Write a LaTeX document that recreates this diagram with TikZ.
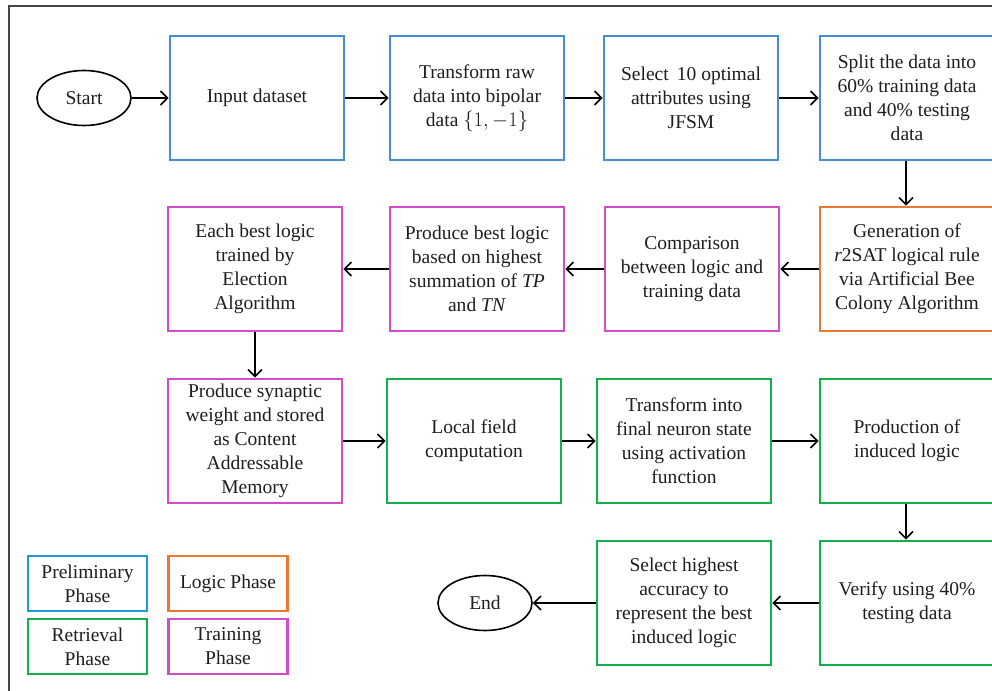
\documentclass[tikz,border=0pt]{standalone}
\usepackage{fontspec}
\setmainfont{Liberation Serif}
\usetikzlibrary{arrows.meta,shapes.geometric}
\definecolor{cblue}{RGB}{72,140,215}
\definecolor{lblue}{RGB}{30,155,215}
\definecolor{corange}{RGB}{237,120,50}
\definecolor{cmag}{RGB}{210,75,200}
\definecolor{cgreen}{RGB}{20,175,75}
\definecolor{frame}{RGB}{70,70,70}
\definecolor{txt}{RGB}{30,30,30}
\tikzset{
  box/.style={draw, line width=2.6bp, minimum width=174bp, minimum height=124bp, inner sep=0pt, align=center, text=txt, font=\fontsize{19.6}{24}\selectfont},
  pre/.style={box, draw=cblue},
  logi/.style={box, draw=corange},
  train/.style={box, draw=cmag},
  retr/.style={box, draw=cgreen},
  term/.style={draw, ellipse, line width=1.6bp, minimum width=94bp, minimum height=55bp, inner sep=0pt, text=txt, font=\fontsize{19.6}{24}\selectfont},
  leg/.style={draw, line width=2.6bp, minimum width=119bp, minimum height=55bp, inner sep=0pt, align=center, text=txt, font=\fontsize{19.6}{24}\selectfont},
  arr/.style={-{Straight Barb[length=7bp,width=14bp,line width=1.6bp]}, line width=1.6bp}
}
\begin{document}
\begin{tikzpicture}[x=1bp,y=-1bp]
\useasboundingbox (0,0) rectangle (992,691);
\clip (0,0) rectangle (992,691);
\fill[white] (0,0) rectangle (992,691);
\draw[frame, line width=1.2bp] (9,695) -- (9,6) -- (995,6);

% row 1
\node[term] (start) at (84,98) {Start};
\node[pre] (input) at (257,98) {Input dataset};
\node[pre] (transform) at (477,98) {Transform raw\\data into bipolar\\data $\bigl\{1,-1\bigr\}$};
\node[pre] (select) at (691,98) {Select \,10 optimal\\attributes using\\JFSM};
\node[pre] (split) at (907,98) {Split the data into\\60\% training data\\and 40\% testing\\data};

% row 2
\node[logi] (gen) at (907,269) {Generation of\\\textit{r}2SAT logical rule\\via Artificial Bee\\Colony Algorithm};
\node[train] (comp) at (692,269) {Comparison\\between logic and\\training data};
\node[train] (prodbest) at (477,269) {Produce best logic\\based on highest\\summation of \textit{TP}\\and \textit{TN}};
\node[train] (each) at (255,269) {Each best logic\\trained by\\Election\\Algorithm};

% row 3
\node[train] (syn) at (255,441) {Produce synaptic\\weight and stored\\as Content\\Addressable\\Memory};
\node[retr] (local) at (474,441) {Local field\\computation};
\node[retr] (tinto) at (684,441) {Transform into\\final neuron state\\using activation\\function};
\node[retr] (prodind) at (907,441) {Production of\\induced logic};

% row 4
\node[retr] (verify) at (907,603) {Verify using 40\%\\testing data};
\node[retr] (sel) at (684,603) {Select highest\\accuracy to\\represent the best\\induced logic};
\node[term] (end) at (485,603) {End};

% legend
\node[leg, draw=lblue] (lpre) at (87.5,583.5) {Preliminary\\Phase};
\node[leg, draw=corange] (llog) at (228,583.5) {Logic Phase};
\node[leg, draw=cgreen] (lret) at (87.5,646.5) {Retrieval\\Phase};
\node[leg, draw=cmag] (ltra) at (228,646.5) {Training\\Phase};

% arrows
\draw[arr] (start) -- (input);
\draw[arr] (input) -- (transform);
\draw[arr] (transform) -- (select);
\draw[arr] (select) -- (split);
\draw[arr] (split.south -| 906,0) -- (gen.north -| 906,0);
\draw[arr] (gen) -- (comp);
\draw[arr] (comp) -- (prodbest);
\draw[arr] (prodbest) -- (each);
\draw[arr] (each) -- (syn);
\draw[arr] (syn) -- (local);
\draw[arr] (local) -- (tinto);
\draw[arr] (tinto) -- (prodind);
\draw[arr] (prodind.south -| 906,0) -- (verify.north -| 906,0);
\draw[arr] (verify) -- (sel);
\draw[arr] (sel) -- (end);
\end{tikzpicture}
\end{document}
